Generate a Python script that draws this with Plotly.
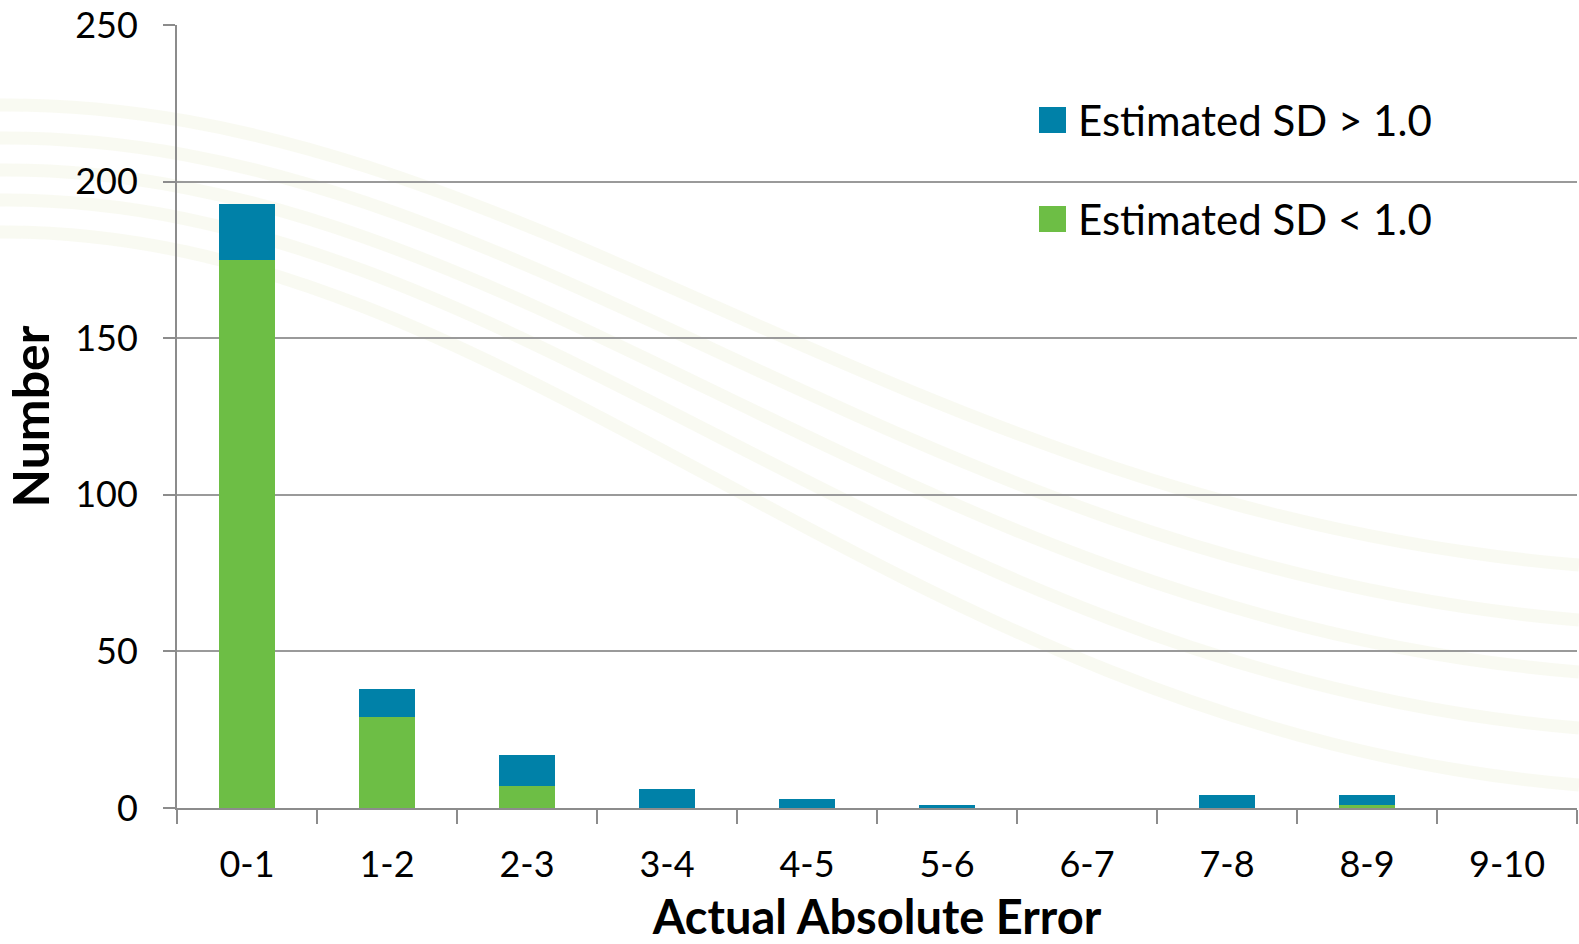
import plotly.graph_objects as go

categories = ["0-1", "1-2", "2-3", "3-4", "4-5", "5-6", "6-7", "7-8", "8-9", "9-10"]
sd_below = [175, 29, 7, 0, 0, 0, 0, 0, 1, 0]
sd_above = [18, 9, 10, 6, 3, 1, 0, 4, 3, 0]

BLUE = "#0081A8"
GREEN = "#6DBE45"
FONT = "Lato, 'Open Sans', sans-serif"

W, H = 1579, 944
L, R, T, B = 177, 2, 25, 136

fig = go.Figure()
fig.add_trace(go.Bar(x=categories, y=sd_below, name="Estimated SD < 1.0",
                     marker=dict(color=GREEN, line=dict(width=0)),
                     showlegend=False))
fig.add_trace(go.Bar(x=categories, y=sd_above, name="Estimated SD > 1.0",
                     marker=dict(color=BLUE, line=dict(width=0)),
                     showlegend=False))

# pixel -> paper helpers for the decorative layer and the key
pw, ph = W - L - R, H - T - B
def px(x):
    return (x - L) / pw
def py(y):
    return (H - B - y) / ph

# faint sweeping stripes behind the plot
stripes = [(105, 565), (138, 620), (170, 672), (200, 728), (232, 785)]
for y0, y1 in stripes:
    path = "M {} {} C {} {} {} {} {} {}".format(
        px(0), py(y0), px(520), py(y0 - 3),
        px(900), py(y1 - 55), px(1579), py(y1))
    fig.add_shape(type="path", path=path, xref="paper", yref="paper",
                  line=dict(color="rgba(236,239,214,0.32)", width=13),
                  layer="below")

# key: coloured squares with their series names
key = [(sd_above, BLUE, "Estimated SD > 1.0", 120),
       (sd_below, GREEN, "Estimated SD < 1.0", 219)]
for _, color, label, yc in key:
    fig.add_shape(type="rect", xref="paper", yref="paper",
                  x0=px(1039), x1=px(1066), y0=py(yc - 13), y1=py(yc + 13),
                  fillcolor=color, line=dict(width=0))
    fig.add_annotation(text=label, xref="paper", yref="paper",
                       x=px(1076), y=py(yc), xanchor="left", yanchor="middle",
                       showarrow=False, font=dict(size=42, family=FONT, color="black"))

fig.update_layout(
    width=W, height=H,
    margin=dict(l=L, r=R, t=T, b=B, pad=0),
    barmode="stack",
    bargap=0.6,
    plot_bgcolor="rgba(0,0,0,0)",
    paper_bgcolor="white",
    font=dict(family=FONT, color="black", size=36),
    showlegend=False,
    xaxis=dict(
        type="category",
        tickson="boundaries",
        ticks="outside", ticklen=14, tickcolor="#8c8c8c", tickwidth=2,
        showline=True, linecolor="#8c8c8c", linewidth=2,
        showgrid=False,
        tickfont=dict(size=36),
        ticklabelstandoff=24,
        title=dict(text="<b>Actual Absolute Error</b>", font=dict(size=47), standoff=20),
        range=[-0.5, 9.5],
    ),
    yaxis=dict(
        range=[0, 250], dtick=50,
        ticks="outside", ticklen=12, tickcolor="#8c8c8c", tickwidth=2,
        showline=True, linecolor="#8c8c8c", linewidth=2,
        showgrid=True, gridcolor="#9a9a9a", gridwidth=1.5,
        zeroline=False,
        tickfont=dict(size=36),
        ticklabelstandoff=18,
        title=dict(text="<b>Number</b>", font=dict(size=50), standoff=20),
    ),
)

fig.write_html("out.html")
